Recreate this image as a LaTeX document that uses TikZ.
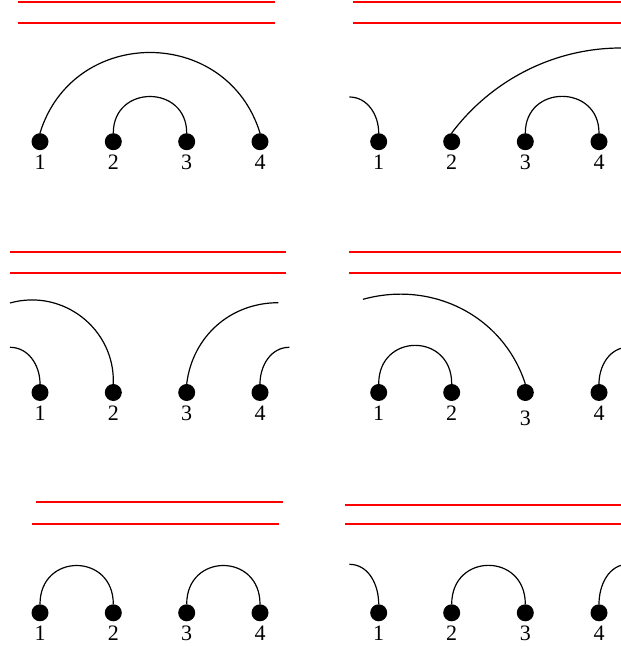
\documentclass[tikz,border=0pt]{standalone}
\usepackage{fontspec}
\setmainfont{Liberation Serif}
\usepackage{tikz}
\tikzset{
    dotnode/.style={circle, fill=black, inner sep=0pt, minimum size=17pt},
    numlbl/.style={font=\fontsize{22}{25}\selectfont, inner sep=0pt},
    redbar/.style={fill=red, draw=none},
    chord/.style={draw=black, line width=1.2pt},
}

\begin{document}
\begin{tikzpicture}[x=1pt, y=1pt, label distance=4.5pt]
\useasboundingbox (0,0) rectangle (621,646);
\clip (0,0) rectangle (621,646);
% free ends of the arcs that leave a panel
\coordinate (b1end) at (349.3,549);
\coordinate (b2end) at (621,598);
\coordinate (c1end) at (10,298.7);
\coordinate (c2end) at (10,343);
\coordinate (c3end) at (278.3,343.3);
\coordinate (c4end) at (289.3,298.7);
\coordinate (d3end) at (363,346.7);
\coordinate (d4end) at (628.3,298.7);
\coordinate (f1end) at (349.3,81.7);
\coordinate (f4end) at (628.3,81.7);
% red lines
\path[redbar] (18,643) rectangle (275,645);
\path[redbar] (18,622) rectangle (275,624);
\path[redbar] (353,643) rectangle (621,645);
\path[redbar] (353,622) rectangle (621,624);
\path[redbar] (10,393) rectangle (286,395);
\path[redbar] (10,372) rectangle (286,374);
\path[redbar] (349,393) rectangle (621,395);
\path[redbar] (349,372) rectangle (621,374);
\path[redbar] (36,143) rectangle (283,145);
\path[redbar] (32,121) rectangle (279,123);
\path[redbar] (345,140) rectangle (621,142);
\path[redbar] (345,121) rectangle (621,123);
% dots, top row
\node[dotnode, label={[numlbl]below:1}] (a1) at (40,504.3) {};
\node[dotnode, label={[numlbl]below:2}] (a2) at (113.3,504.3) {};
\node[dotnode, label={[numlbl]below:3}] (a3) at (186.7,504.3) {};
\node[dotnode, label={[numlbl]below:4}] (a4) at (260,504.3) {};
\node[dotnode, label={[numlbl]below:1}] (b1) at (378.7,504.3) {};
\node[dotnode, label={[numlbl]below:2}] (b2) at (451.7,504.3) {};
\node[dotnode, label={[numlbl]below:3}] (b3) at (525.3,504.3) {};
\node[dotnode, label={[numlbl]below:4}] (b4) at (599,504.3) {};
% dots, middle row
\node[dotnode, label={[numlbl]below:1}] (c1) at (40,253.5) {};
\node[dotnode, label={[numlbl]below:2}] (c2) at (113.3,253.5) {};
\node[dotnode, label={[numlbl]below:3}] (c3) at (186.7,253.5) {};
\node[dotnode, label={[numlbl]below:4}] (c4) at (260,253.5) {};
\node[dotnode, label={[numlbl]below:1}] (d1) at (378.7,253.5) {};
\node[dotnode, label={[numlbl]below:2}] (d2) at (451.7,253.5) {};
\node[dotnode, label={[numlbl, yshift=-5pt]below:3}] (d3) at (525.3,253.5) {};
\node[dotnode, label={[numlbl]below:4}] (d4) at (599,253.5) {};
% dots, bottom row
\node[dotnode, label={[numlbl]below:1}] (e1) at (40,33.2) {};
\node[dotnode, label={[numlbl]below:2}] (e2) at (113.3,33.2) {};
\node[dotnode, label={[numlbl]below:3}] (e3) at (186.7,33.2) {};
\node[dotnode, label={[numlbl]below:4}] (e4) at (260,33.2) {};
\node[dotnode, label={[numlbl]below:1}] (f1) at (378.7,33.2) {};
\node[dotnode, label={[numlbl]below:2}] (f2) at (451.7,33.2) {};
\node[dotnode, label={[numlbl]below:3}] (f3) at (525.3,33.2) {};
\node[dotnode, label={[numlbl]below:4}] (f4) at (599,33.2) {};
% arcs
\draw[chord] (a1.north) to[out=72.8, in=107.2, looseness=1.31] (a4.north);
\draw[chord] (a2.north) to[out=90, in=90, looseness=1.7] (a3.north);
\draw[chord] (b1.north) to[out=90, in=0] (b1end);
\draw[chord] (b2.north) to[out=53, in=180, looseness=0.9] (b2end);
\draw[chord] (b3.north) to[out=90, in=90, looseness=1.7] (b4.north);
\draw[chord] (c1.north) to[out=90, in=0] (c1end);
\draw[chord] (c2.north) to[out=88, in=15.7, looseness=1.07] (c2end);
\draw[chord] (c3.north) to[out=83, in=180] (c3end);
\draw[chord] (c4.north) to[out=90, in=180] (c4end);
\draw[chord] (d1.north) to[out=90, in=90, looseness=1.8] (d2.north);
\draw[chord] (d3.north) to[out=108, in=15.5] (d3end);
\draw[chord] (d4.north) to[out=90, in=180] (d4end);
\draw[chord] (e1.north) to[out=90, in=90, looseness=1.8] (e2.north);
\draw[chord] (e3.north) to[out=90, in=90, looseness=1.8] (e4.north);
\draw[chord] (f1.north) to[out=90, in=0] (f1end);
\draw[chord] (f2.north) to[out=90, in=90, looseness=1.8] (f3.north);
\draw[chord] (f4.north) to[out=90, in=180] (f4end);
\end{tikzpicture}
\end{document}
